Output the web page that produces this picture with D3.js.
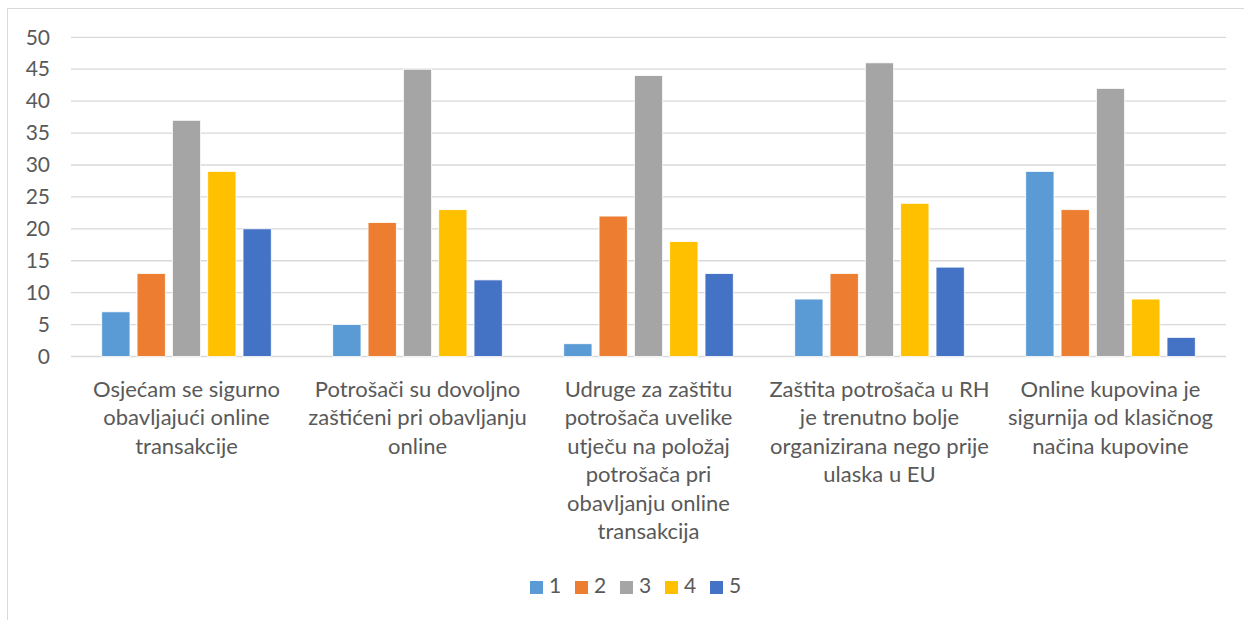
<!DOCTYPE html>
<html>
<head>
<meta charset="utf-8">
<script src="https://cdn.jsdelivr.net/npm/d3@7"></script>
<style>
  html, body { margin: 0; padding: 0; background: #fff; }
  svg { display: block; }
  text { font-family: Lato, "Open Sans", sans-serif; fill: #595959; }
</style>
</head>
<body>
<svg id="chart" width="1244" height="620"></svg>
<script>
const categories = [
  "Osjećam se sigurno\nobavljajući online\ntransakcije",
  "Potrošači su dovoljno\nzaštićeni pri obavljanju\nonline",
  "Udruge za zaštitu\npotrošača uvelike\nutječu na položaj\npotrošača pri\nobavljanju online\ntransakcija",
  "Zaštita potrošača u RH\nje trenutno bolje\norganizirana nego prije\nulaska u EU",
  "Online kupovina je\nsigurnija od klasičnog\nnačina kupovine"
];
const seriesNames = ["1", "2", "3", "4", "5"];
const series1 = [7, 5, 2, 9, 29];
const series2 = [13, 21, 22, 13, 23];
const series3 = [37, 45, 44, 46, 42];
const series4 = [29, 23, 18, 24, 9];
const series5 = [20, 12, 13, 14, 3];
const yTicks = [0, 5, 10, 15, 20, 25, 30, 35, 40, 45, 50];
const colors = ["#5b9bd5", "#ed7d31", "#a5a5a5", "#ffc000", "#4472c4"];

const seriesValues = [series1, series2, series3, series4, series5];

const svg = d3.select("#chart");

// outer chart border (cropped on right/bottom)
svg.append("rect")
  .attr("x", 7.5).attr("y", 8.5)
  .attr("width", 1260).attr("height", 640)
  .attr("fill", "#fff").attr("stroke", "#d9d9d9").attr("stroke-width", 1);

const plot = { left: 71, right: 1226, top: 37.3, bottom: 356.5 };

const x0 = d3.scaleBand().domain(d3.range(categories.length))
  .range([plot.left, plot.right]).paddingInner(0).paddingOuter(0);
const x1 = d3.scaleBand().domain(seriesNames)
  .range([0, x0.bandwidth()]).paddingInner(0.2).paddingOuter(0.87);
const y = d3.scaleLinear().domain([0, 50]).range([plot.bottom, plot.top]);

// gridlines
svg.append("g").selectAll("line").data(yTicks).join("line")
  .attr("x1", plot.left).attr("x2", plot.right)
  .attr("y1", d => y(d)).attr("y2", d => y(d))
  .attr("stroke", "#d9d9d9").attr("stroke-width", 1.3);

// y axis
const yAxis = d3.axisLeft(y).tickValues(yTicks).tickSize(0).tickPadding(0);
const gy = svg.append("g").attr("transform", `translate(${50},0)`).call(yAxis);
gy.select(".domain").remove();
gy.selectAll("text").style("font-size", "21px").attr("fill", "#595959")
  .style("font-family", "Lato, sans-serif");

// bars
const groups = svg.append("g").selectAll("g").data(categories.map((c, i) => i)).join("g")
  .attr("transform", i => `translate(${x0(i)},0)`);
groups.selectAll("rect")
  .data(i => seriesNames.map((s, k) => ({ s, k, v: seriesValues[k][i] })))
  .join("rect")
  .attr("x", d => x1(d.s))
  .attr("width", x1.bandwidth())
  .attr("y", d => y(d.v))
  .attr("height", d => y(0) - y(d.v))
  .attr("fill", d => colors[d.k])
  .attr("stroke", "#fff").attr("stroke-width", 0.8);

// x axis labels
const xAxis = d3.axisBottom(x0).tickSize(0).tickFormat(() => "");
const gx = svg.append("g").attr("transform", `translate(0,${plot.bottom})`).call(xAxis);
gx.select(".domain").remove();
gx.selectAll(".tick").each(function (i) {
  const t = d3.select(this).append("text")
    .attr("text-anchor", "middle")
    .attr("fill", "#595959")
    .style("font-size", "22px")
    .style("font-family", "Lato, sans-serif");
  categories[i].split("\n").forEach((line, li) => {
    t.append("tspan").attr("x", 0).attr("y", 35 + li * 28.4)
      .attr("dominant-baseline", "middle").text(line);
  });
});

// legend
const legendX = d3.scaleBand().domain(seriesNames).range([530, 755]);
const lg = svg.append("g").selectAll("g").data(seriesNames).join("g")
  .attr("transform", d => `translate(${legendX(d)},${581})`);
lg.append("rect").attr("width", 13).attr("height", 13)
  .attr("fill", (d, i) => colors[i]);
lg.append("text").attr("x", 19).attr("y", 7)
  .attr("dominant-baseline", "middle")
  .style("font-size", "21px").text(d => d);
</script>
</body>
</html>
